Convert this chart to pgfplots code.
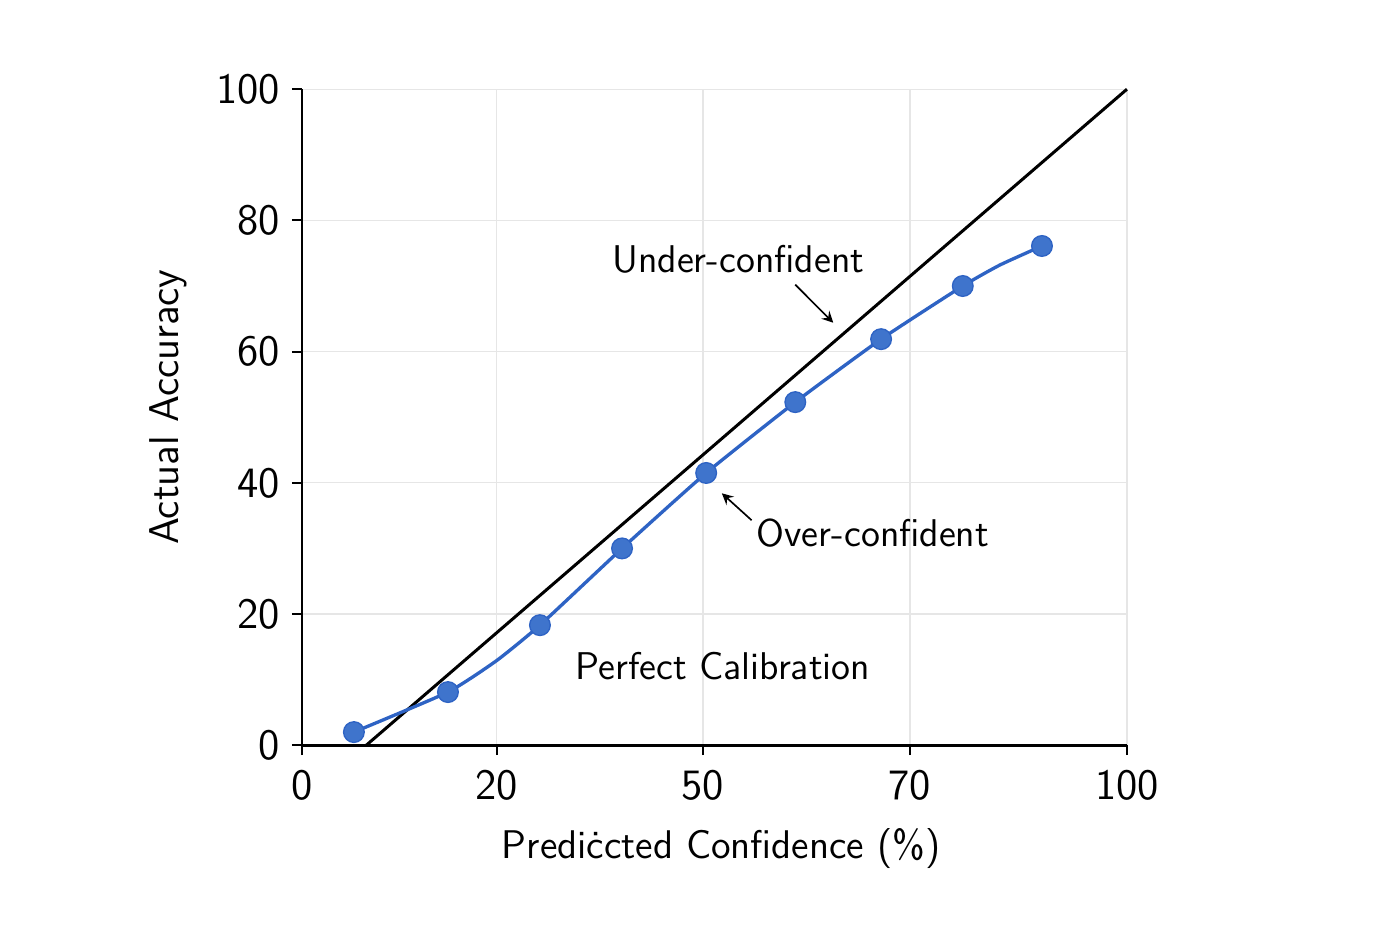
\documentclass[border=0pt]{standalone}
\usepackage{pgfplots}
\pgfplotsset{compat=1.18}
\definecolor{calblue}{HTML}{3F74CC}
\definecolor{calline}{HTML}{2E63C4}
\definecolor{gridgray}{HTML}{E6E6E6}
\begin{document}
\sffamily
\begin{tikzpicture}
\begin{axis}[
    scale only axis,
    width=247.5pt,
    height=196.8pt,
    xmin=0, xmax=100,
    ymin=0, ymax=100,
    axis lines=left,
    axis line style={-, line width=0.8pt},
    xtick={0,23.6,48.6,73.7,100},
    xticklabels={0,20,50,70,100},
    ytick={0,20,40,60,80,100},
    tick align=outside,
    major tick length=3pt,
    tick style={black, line width=0.6pt},
    grid=major,
    grid style={gridgray, line width=0.4pt},
    /pgf/number format/assume math mode=true,
    ticklabel style={font=\sffamily\fontsize{13}{15}\selectfont},
    xticklabel style={yshift=-1pt},
    xlabel={Prediċcted Confidence (\%)},
    ylabel={Actual Accuracy},
    xlabel style={font=\sffamily\fontsize{12}{15}\selectfont, yshift=-1.5pt, xshift=2pt},
    ylabel style={font=\sffamily\fontsize{12.5}{15}\selectfont, yshift=2pt, xshift=3pt},
    clip=false,
]
% bounding box matching the reference margins
\path (rel axis cs:-0.366,-0.2866) rectangle (rel axis cs:1.331,1.136);

% perfect calibration diagonal
\addplot[black, line width=0.9pt] coordinates {(7.8,0) (100,100)};

% calibration curve (line through bins)
\addplot[calline, line width=1.0pt, smooth, tension=0.3] coordinates {
    (6.3,2.0) (17.7,8.1) (23.6,12.9) (28.85,18.3) (38.8,30.0)
    (49.0,41.5) (59.8,52.3) (70.2,61.9) (80.1,70.0) (84.6,73.2) (89.7,76.1)
};
\addplot[only marks, mark=*, mark size=3.1pt,
    mark options={fill=calblue, draw=calline, line width=0.4pt}] coordinates {
    (6.3,2.0) (17.7,8.1) (28.85,18.3) (38.8,30.0) (49.0,41.5)
    (59.8,52.3) (70.2,61.9) (80.1,70.0) (89.7,76.1)
};

% annotations
\node[font=\sffamily\fontsize{11.6}{13}\selectfont] at (axis cs:52.9,74.1) {Under-confident};
\draw[->, >=stealth, line width=0.5pt] (axis cs:59.8,70.2) -- (axis cs:64.4,64.4);
\node[font=\sffamily\fontsize{11.6}{13}\selectfont] at (axis cs:69.2,32.3) {Over-confident};
\draw[->, >=stealth, line width=0.5pt] (axis cs:54.5,34.3) -- (axis cs:50.9,38.4);
\node[font=\sffamily\fontsize{11.6}{13}\selectfont] at (axis cs:51.0,12.0) {Perfect Calibration};
\end{axis}
\end{tikzpicture}
\end{document}
